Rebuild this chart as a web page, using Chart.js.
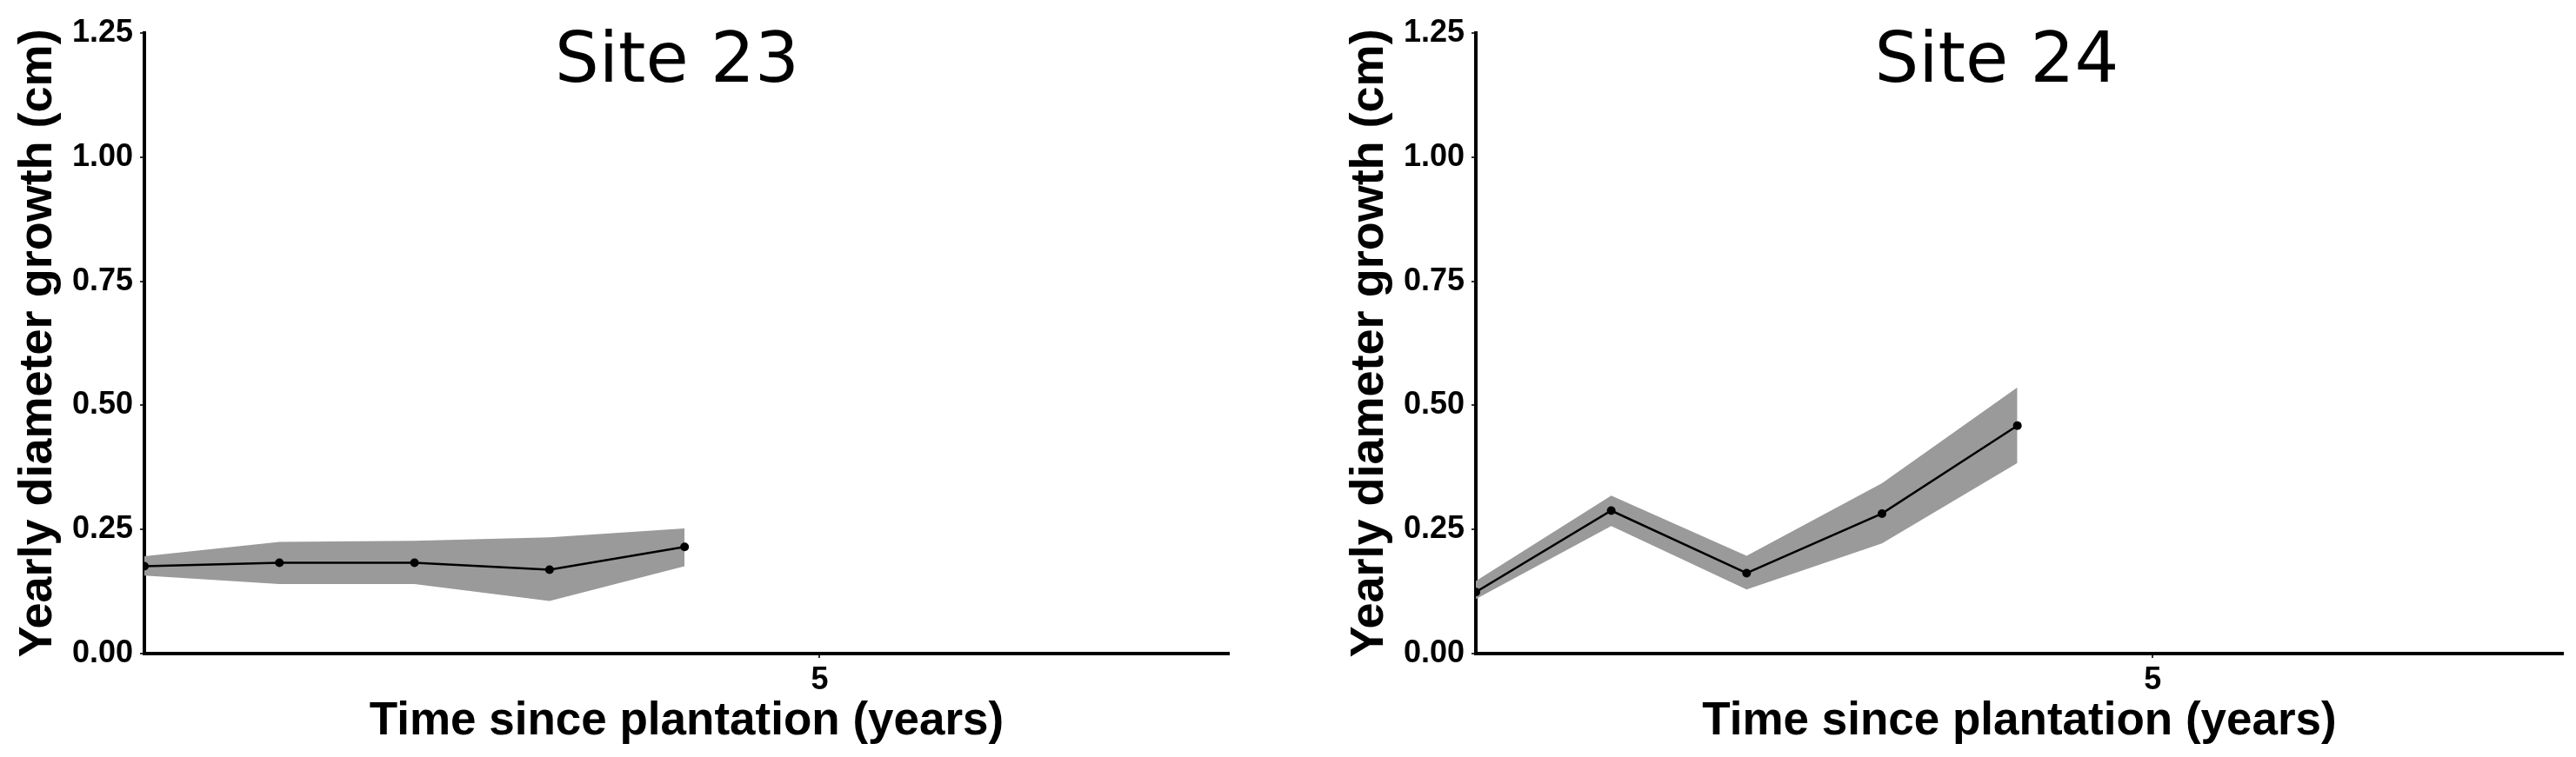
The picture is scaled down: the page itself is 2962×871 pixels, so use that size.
<!DOCTYPE html>
<html>
<head>
<meta charset="utf-8">
<script src="https://cdn.jsdelivr.net/npm/chart.js@4.4.0/dist/chart.umd.min.js"></script>
<style>
  body { margin: 0; background: #fff; width: 2962px; height: 871px; overflow: hidden; position: relative; }
  canvas { position: absolute; top: 0; }
  #site23 { left: 0; }
  #site24 { left: 1531px; }
</style>
</head>
<body>
<canvas id="site23" width="1420" height="871"></canvas>
<canvas id="site24" width="1431" height="871"></canvas>
<script>
// years since plantation
var years = [0, 1, 2, 3, 4];

var site23Mean  = [0.176, 0.183, 0.183, 0.169, 0.215];
var site23Upper = [0.196, 0.225, 0.227, 0.234, 0.252];
var site23Lower = [0.157, 0.140, 0.140, 0.106, 0.176];

var site24Mean  = [0.124, 0.288, 0.162, 0.282, 0.459];
var site24Upper = [0.146, 0.318, 0.197, 0.343, 0.536];
var site24Lower = [0.110, 0.257, 0.129, 0.222, 0.384];

var xTicks = [5];
var yMax = 1.25;
var yStep = 0.25;

var labelFont = "'Liberation Sans', Arial, sans-serif";

// panel title drawn inside the plot area, like the ggplot annotation
var siteTitle = {
    id: "siteTitle",
    afterDraw: function(chart, args, opts) {
        var ctx = chart.ctx;
        var area = chart.chartArea;
        ctx.save();
        ctx.font = "80px 'DejaVu Sans'";
        ctx.fillStyle = "#000";
        ctx.textAlign = "center";
        ctx.textBaseline = "alphabetic";
        ctx.fillText(opts.text, (area.left + area.right) / 2 + opts.shift, area.top + 56);
        ctx.restore();
    }
};

function points(y) {
    return years.map((x, i) => {
        return {x: x, y: y[i]}
    });
}

function makeChart(id, title, shift, mean, lower, upper, rightPad) {
    return new Chart(document.getElementById(id), {
        type: "line",
        data: {
            datasets: [
            {
                label: "lower",
                data: points(lower),
                borderWidth: 0,
                pointRadius: 0,
                fill: false,
                order: 3,
            },
            {
                label: "upper",
                data: points(upper),
                borderWidth: 0,
                pointRadius: 0,
                backgroundColor: "#9a9a9a",
                fill: "-1",
                order: 2,
            },
            {
                label: "mean",
                data: points(mean),
                borderColor: "#000",
                borderWidth: 2.5,
                pointRadius: 5,
                pointBackgroundColor: "#000",
                pointBorderWidth: 0,
                fill: false,
                order: 1,
            },
            ]
        },
        options: {
            responsive: false,
            animation: false,
            devicePixelRatio: 1,
            layout: {
                padding: {left: 0, top: 38, right: rightPad, bottom: 0},
            },
            scales: {
                x: {
                    type: "linear",
                    min: 0,
                    max: 8.03,
                    afterBuildTicks: (axis) => {
                        axis.ticks = xTicks.map(v => ({value: v}));
                    },
                    afterFit: (axis) => { axis.height = 119; },
                    ticks: {
                        color: "#000",
                        padding: 4,
                        font: {family: labelFont, size: 36, weight: "bold"},
                    },
                    grid: {
                        drawOnChartArea: false,
                        drawTicks: true,
                        tickLength: 5,
                        color: "#333",
                        lineWidth: 2,
                    },
                    border: {display: true, color: "#000", width: 4},
                    title: {
                        display: true,
                        text: "Time since plantation (years)",
                        color: "#000",
                        font: {family: labelFont, size: 53, weight: "bold"},
                        padding: {top: 0, bottom: 9},
                    },
                },
                y: {
                    min: 0,
                    max: yMax,
                    afterFit: (axis) => { axis.width = 166; },
                    ticks: {
                        stepSize: yStep,
                        color: "#000",
                        padding: 8,
                        callback: (v) => v.toFixed(2),
                        font: {family: labelFont, size: 36, weight: "bold"},
                    },
                    grid: {
                        drawOnChartArea: false,
                        drawTicks: true,
                        tickLength: 5,
                        color: "#333",
                        lineWidth: 2,
                    },
                    border: {display: true, color: "#000", width: 4},
                    title: {
                        display: true,
                        text: "Yearly diameter growth (cm)",
                        color: "#000",
                        font: {family: labelFont, size: 54, weight: "bold"},
                        padding: {top: 12, bottom: 0},
                    },
                },
            },
            plugins: {
                legend: {display: false},
                tooltip: {enabled: false},
                siteTitle: {text: title, shift: shift},
            },
        },
        plugins: [siteTitle],
    });
}

makeChart("site23", "Site 23", -11, site23Mean, site23Lower, site23Upper, 7);
makeChart("site24", "Site 24", -26, site24Mean, site24Lower, site24Upper, 15);
</script>
</body>
</html>
